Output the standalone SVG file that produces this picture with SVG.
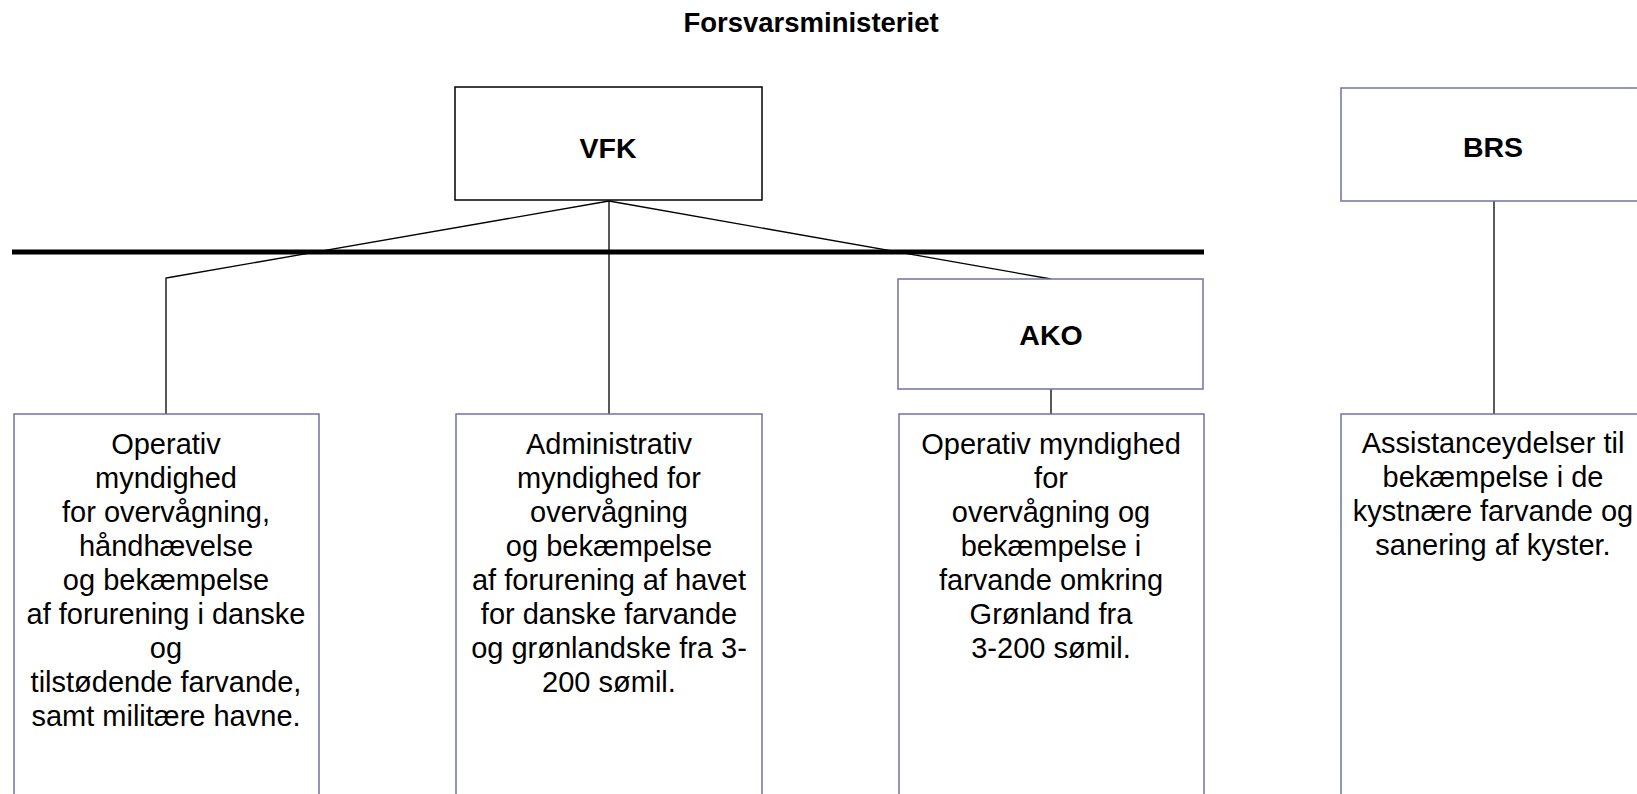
<svg xmlns="http://www.w3.org/2000/svg" width="1637" height="794" viewBox="0 0 1637 794">
<style>
.bg{fill:#ffffff}
.box{fill:#ffffff;stroke:#7070a8;stroke-width:1.5}
.boxk{fill:#ffffff;stroke:#000000;stroke-width:1.5}
.conn{stroke:#000000;stroke-width:1.3;fill:none}
.bar{stroke:#000000;stroke-width:5;fill:none}
.h{font-family:"Liberation Sans",Arial,sans-serif;font-weight:bold;font-size:28.5px;text-anchor:middle;fill:#000}
.ttl{font-family:"Liberation Sans",Arial,sans-serif;font-weight:bold;font-size:27.5px;text-anchor:middle;fill:#000}
.t{font-family:"Liberation Sans",Arial,sans-serif;font-size:29px;text-anchor:middle;fill:#000}
</style>
<rect class="bg" x="0" y="0" width="1637" height="794"/>
<g id="title"><text class="ttl" x="811" y="32">Forsvarsministeriet</text></g>
<g id="connectors">
<line class="bar" x1="12" y1="252" x2="1204" y2="252"/>
<polyline class="conn" points="166,414 166,278 172,277 609,201"/>
<line class="conn" x1="609" y1="201" x2="609" y2="414"/>
<line class="conn" x1="609" y1="201" x2="1051" y2="279"/>
<line class="conn" x1="1051" y1="389" x2="1051" y2="414"/>
<line class="conn" x1="1494" y1="201" x2="1494" y2="414"/>
</g>
<g id="vfk"><rect class="boxk" x="455" y="87" width="307" height="113"/><text class="h" x="608" y="158">VFK</text></g>
<g id="brs"><rect class="box" x="1341" y="88" width="306" height="113"/><text class="h" x="1493" y="157">BRS</text></g>
<g id="ako"><rect class="box" x="898" y="279" width="305" height="110"/><text class="h" x="1051" y="345">AKO</text></g>
<g id="box1"><rect class="box" x="14" y="414" width="305" height="400"/>
<text class="t" x="166" y="454">Operativ</text>
<text class="t" x="166" y="488">myndighed</text>
<text class="t" x="166" y="522">for overvågning,</text>
<text class="t" x="166" y="556">håndhævelse</text>
<text class="t" x="166" y="590">og bekæmpelse</text>
<text class="t" x="166" y="624">af forurening i danske</text>
<text class="t" x="166" y="658">og</text>
<text class="t" x="166" y="692">tilstødende farvande,</text>
<text class="t" x="166" y="726">samt militære havne.</text>
</g>
<g id="box2"><rect class="box" x="456" y="414" width="306" height="400"/>
<text class="t" x="609" y="454">Administrativ</text>
<text class="t" x="609" y="488">myndighed for</text>
<text class="t" x="609" y="522">overvågning</text>
<text class="t" x="609" y="556">og bekæmpelse</text>
<text class="t" x="609" y="590">af forurening af havet</text>
<text class="t" x="609" y="624">for danske farvande</text>
<text class="t" x="609" y="658">og grønlandske fra 3-</text>
<text class="t" x="609" y="692">200 sømil.</text>
</g>
<g id="box3"><rect class="box" x="899" y="414" width="305" height="400"/>
<text class="t" x="1051" y="454">Operativ myndighed</text>
<text class="t" x="1051" y="488">for</text>
<text class="t" x="1051" y="522">overvågning og</text>
<text class="t" x="1051" y="556">bekæmpelse i</text>
<text class="t" x="1051" y="590">farvande omkring</text>
<text class="t" x="1051" y="624">Grønland fra</text>
<text class="t" x="1051" y="658">3-200 sømil.</text>
</g>
<g id="box4"><rect class="box" x="1341" y="414" width="306" height="400"/>
<text class="t" x="1493" y="453">Assistanceydelser til</text>
<text class="t" x="1493" y="487">bekæmpelse i de</text>
<text class="t" x="1493" y="521">kystnære farvande og</text>
<text class="t" x="1493" y="555">sanering af kyster.</text>
</g>
</svg>
